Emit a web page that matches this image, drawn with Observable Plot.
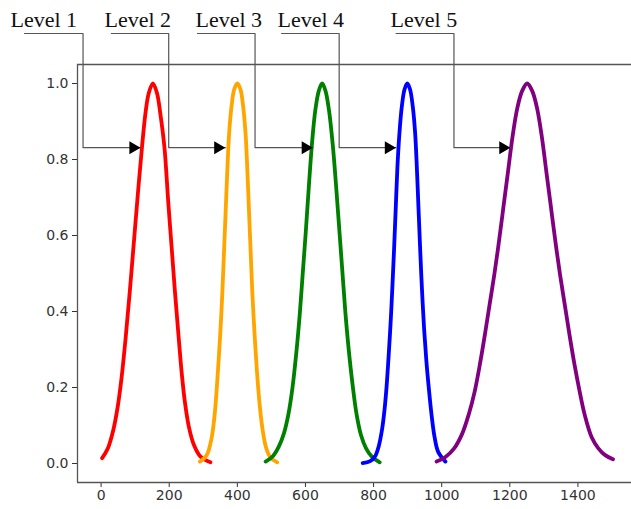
<!DOCTYPE html>
<html><head><meta charset="utf-8">
<script src="https://cdn.jsdelivr.net/npm/d3@7"></script>
<script src="https://cdn.jsdelivr.net/npm/@observablehq/plot@0.6"></script>
<style>body{margin:0;background:#fff;} svg{display:block;}</style>
</head><body><div id="chart"></div>
<script>
// Series
const seriesNames = ["Level 1", "Level 2", "Level 3", "Level 4", "Level 5"];
const seriesColors = ["#ff0000", "#ffa500", "#008000", "#0000ff", "#800080"];

const level1X = [3, 20, 35, 48, 60, 72, 84, 96, 108, 120, 130, 140, 152, 164, 174, 186, 197, 207, 217, 227, 237, 247, 258, 272, 292, 321];
const level1Y = [0.014, 0.04, 0.085, 0.145, 0.225, 0.33, 0.45, 0.58, 0.71, 0.832, 0.92, 0.975, 1.0, 0.975, 0.92, 0.832, 0.69, 0.57, 0.45, 0.34, 0.235, 0.155, 0.095, 0.05, 0.018, 0.003];

const level2X = [290, 310, 324, 333, 339, 345, 351, 356, 361, 366, 371, 376, 383, 391, 400, 409, 417, 424, 429, 434, 439, 444, 450, 457, 465, 474, 485, 498, 517];
const level2Y = [0.005, 0.022, 0.065, 0.125, 0.19, 0.27, 0.36, 0.45, 0.56, 0.67, 0.78, 0.87, 0.94, 0.985, 1.0, 0.985, 0.94, 0.87, 0.78, 0.67, 0.56, 0.45, 0.35, 0.25, 0.16, 0.09, 0.04, 0.015, 0.003];

const level3X = [483, 505, 522, 537, 550, 562, 573, 583, 592, 601, 610, 619, 629, 639, 649, 659, 669, 680, 690, 699, 708, 717, 727, 738, 750, 763, 778, 795, 818];
const level3Y = [0.005, 0.02, 0.045, 0.08, 0.13, 0.2, 0.29, 0.39, 0.5, 0.61, 0.73, 0.84, 0.93, 0.98, 1.0, 0.98, 0.93, 0.84, 0.73, 0.62, 0.51, 0.4, 0.3, 0.21, 0.13, 0.075, 0.04, 0.018, 0.003];

const level4X = [768, 790, 805, 815, 825, 832, 838, 844, 850, 855, 860, 865, 870, 876, 883, 891, 899, 907, 915, 922, 927, 932, 937, 942, 948, 955, 962, 970, 979, 990, 1011];
const level4Y = [0.001, 0.006, 0.02, 0.045, 0.09, 0.14, 0.2, 0.28, 0.37, 0.46, 0.56, 0.67, 0.78, 0.87, 0.94, 0.985, 1.0, 0.985, 0.94, 0.87, 0.78, 0.67, 0.56, 0.46, 0.36, 0.27, 0.2, 0.13, 0.07, 0.03, 0.005];

const level5X = [985, 1011, 1036, 1060, 1080, 1097, 1112, 1127, 1141, 1155, 1169, 1182, 1195, 1208, 1222, 1236, 1251, 1266, 1280, 1294, 1307, 1320, 1333, 1347, 1361, 1375, 1390, 1405, 1420, 1440, 1460, 1480, 1503];
const level5Y = [0.005, 0.017, 0.039, 0.078, 0.131, 0.19, 0.26, 0.34, 0.42, 0.5, 0.59, 0.68, 0.77, 0.86, 0.935, 0.98, 1.0, 0.98, 0.935, 0.86, 0.77, 0.68, 0.59, 0.5, 0.42, 0.34, 0.26, 0.19, 0.128, 0.07, 0.04, 0.022, 0.011];

// Axes
const xTicks = [0, 200, 400, 600, 800, 1000, 1200, 1400];
const yTicks = [0.0, 0.2, 0.4, 0.6, 0.8, 1.0];
const xDomain = [-69.3, 1557.3];
const yDomain = [-0.05, 1.05];

// Annotations (data coordinates)
const annotationLabels = ["Level 1", "Level 2", "Level 3", "Level 4", "Level 5"];
const annotationTextX = [-266, 10, 277, 518, 850];
const annotationStartX = [-225, 30, 283, 530, 866];
const annotationElbowX = [-53, 198.5, 452, 699, 1036];
const annotationTipX = [116, 365, 622, 866, 1202];
const annotationTextY = 1.168;
const annotationTopY = 1.1316;
const annotationArrowY = 0.831;

// Build tables
const xs = [level1X, level2X, level3X, level4X, level5X];
const ys = [level1Y, level2Y, level3Y, level4Y, level5Y];
const points = [];
seriesNames.forEach((name, i) => xs[i].forEach((x, j) => points.push({series: name, x, y: ys[i][j]})));

const leaders = [];
annotationLabels.forEach((lab, i) => {
  leaders.push({g: lab, x: annotationStartX[i], y: annotationTopY});
  leaders.push({g: lab, x: annotationElbowX[i], y: annotationTopY});
  leaders.push({g: lab, x: annotationElbowX[i], y: annotationArrowY});
  leaders.push({g: lab, x: annotationTipX[i], y: annotationArrowY});
});
const labels = annotationLabels.map((lab, i) => ({lab, x: annotationTextX[i], y: annotationTextY}));
const tips = annotationTipX.map(x => ({x, y: annotationArrowY}));

const chart = Plot.plot({
  width: 631,
  height: 509,
  marginLeft: 77,
  marginRight: 0,
  marginTop: 64,
  marginBottom: 27,
  style: {fontFamily: "DejaVu Sans", fontSize: "14px", color: "#333", background: "#fff"},
  x: {domain: xDomain},
  y: {domain: yDomain},
  color: {domain: seriesNames, range: seriesColors},
  marks: [
    Plot.axisX({ticks: xTicks, tickFormat: d => String(d), tickSize: 5, tickPadding: 3, label: null, fontSize: 14}),
    Plot.axisY({ticks: yTicks, tickFormat: d => d.toFixed(1), tickSize: 5, tickPadding: 4, label: null, fontSize: 14}),
    Plot.line(points, {x: "x", y: "y", z: "series", stroke: "series", strokeWidth: 3.8, curve: "catmull-rom"}),
    Plot.ruleX([xDomain[0]], {stroke: "#555", strokeWidth: 1.3}),
    Plot.ruleY([yDomain[0], yDomain[1]], {stroke: "#555", strokeWidth: 1.3}),
    Plot.line(leaders, {x: "x", y: "y", z: "g", stroke: "#555", strokeWidth: 1.2}),
    Plot.dot(tips, {x: "x", y: "y", symbol: "triangle", rotate: 90, r: 4.8, fill: "#000", stroke: "none", dx: -7.5}),
    Plot.text(labels, {x: "x", y: "y", text: "lab", textAnchor: "start", lineAnchor: "middle", fontFamily: "Liberation Serif", fontSize: 22, fill: "#111"})
  ]
});
document.getElementById("chart").appendChild(chart);
</script>
</body></html>
